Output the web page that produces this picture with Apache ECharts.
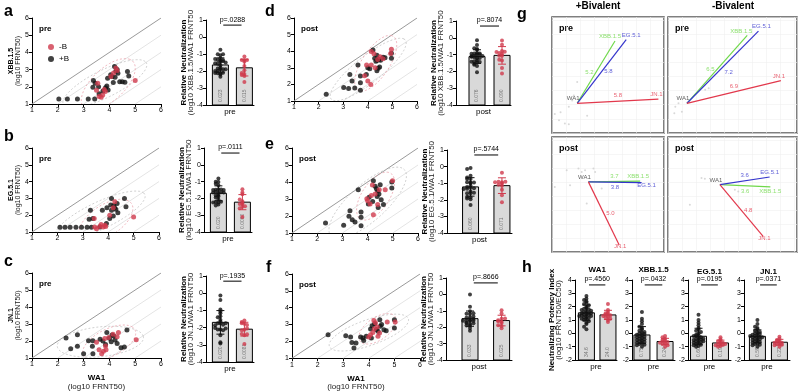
<!DOCTYPE html>
<html>
<head>
<meta charset="utf-8">
<script src="https://cdn.jsdelivr.net/npm/echarts@6/dist/echarts.min.js"></script>
<style>
  html, body { margin: 0; padding: 0; background: #fff; }
  #chart { width: 800px; height: 392px; }
</style>
</head>
<body>
<div id="chart"></div>
<script>
// ---------------- data ----------------
// scatter panels a-f: [log10 WA1 FRNT50, log10 variant FRNT50]
// "+B" = boosted with bivalent (black), "-B" = not boosted (red)
const aPlusB = [[2.04,1.29],[2.37,1.29],[2.76,1.29],[3.18,1.29],[3.43,1.29],[3.38,2.36],[3.36,1.97],[3.58,2.01],[3.93,2.5],[3.95,1.82],[4.22,2.56],[4.2,3.18],[4.33,2.79],[4.4,2.3],[4.5,2.3],[4.6,2.26],[4.7,2.89],[4.75,2.63],[4.05,2.7],[3.6,1.6],[3.85,1.95],[4.1,2.6],[4.25,2.9],[3.75,1.75],[4.15,2.25],[3.9,2.05],[4.3,3.0],[3.45,2.2]];
const aMinusB = [[3.55,2.2],[3.5,1.8],[3.6,1.43],[3.68,1.39],[3.74,1.52],[3.84,1.72],[4.06,2.6],[4.16,2.8],[4.3,2.95],[5.0,2.36],[4.25,3.1],[3.8,1.85]];

const bPlusB = [[2.1,1.28],[2.3,1.28],[2.5,1.28],[2.73,1.28],[2.95,1.28],[3.17,1.28],[3.34,1.28],[3.3,2.29],[3.25,1.76],[3.4,1.8],[3.67,1.3],[3.77,2.3],[3.93,1.5],[4.06,1.81],[4.13,3.0],[4.22,2.58],[4.25,2.45],[4.35,2.7],[4.38,2.15],[4.64,2.99],[4.7,2.5],[4.13,2.3],[4.2,1.95],[3.95,2.45],[4.1,2.6],[4.3,2.35]];
const bMinusB = [[3.45,1.8],[3.47,1.3],[3.54,1.2],[3.67,1.33],[3.72,1.45],[3.8,1.3],[3.9,1.32],[4.06,2.0],[4.2,2.45],[4.26,2.8],[5.0,1.9],[3.87,1.4]];

const cPlusB = [[2.32,2.18],[2.76,2.37],[2.5,1.55],[2.76,1.69],[3.0,1.25],[3.19,2.02],[3.36,2.02],[3.34,1.69],[3.36,1.25],[3.64,2.1],[3.75,2.0],[3.9,2.5],[4.0,2.16],[4.07,1.96],[4.22,2.06],[4.3,1.85],[4.45,1.6],[4.58,1.65],[4.68,2.65],[4.17,2.3],[3.85,1.8],[4.1,2.35]];
const cMinusB = [[3.5,1.92],[3.6,1.48],[3.7,1.25],[3.77,1.4],[3.85,1.7],[3.97,2.2],[4.14,2.4],[4.3,2.25],[4.35,2.5],[5.04,2.08],[3.82,2.15],[3.87,1.48]];

const dPlusB = [[2.31,1.4],[3.02,1.81],[3.22,1.75],[3.27,2.6],[3.36,2.2],[3.47,1.79],[3.6,3.17],[3.7,2.5],[3.7,2.1],[3.7,1.65],[3.94,2.6],[4.0,3.0],[4.08,2.95],[4.21,4.07],[4.28,3.57],[4.33,3.4],[4.37,3.75],[4.39,3.46],[4.45,3.5],[4.52,3.45],[4.37,2.82],[4.42,2.98],[4.48,3.05],[4.62,3.63],[4.7,3.6],[4.96,3.57],[4.96,3.88]];
const dMinusB = [[3.87,2.52],[4.0,2.2],[4.12,1.99],[4.14,3.17],[4.14,3.98],[4.25,3.84],[4.3,3.0],[4.4,3.5],[4.5,3.67],[4.62,3.55],[4.96,4.12],[4.93,3.86],[3.95,3.17]];

const ePlusB = [[2.33,1.59],[3.05,1.45],[3.3,2.31],[3.26,1.98],[3.39,1.78],[3.5,1.65],[3.74,2.24],[3.74,1.92],[3.74,1.43],[3.63,3.55],[4.03,2.7],[4.06,3.1],[4.23,4.08],[4.3,3.75],[4.4,3.45],[4.45,3.3],[4.5,3.84],[4.38,3.15],[4.54,2.96],[4.63,2.67],[4.96,3.65],[4.96,4.0],[4.42,2.5],[4.2,2.85],[4.35,3.6]];
const eMinusB = [[3.97,3.02],[4.1,2.7],[4.19,3.82],[4.23,2.08],[4.3,3.3],[4.4,2.67],[4.46,3.55],[4.7,3.55],[4.99,4.08],[4.0,2.9],[4.15,3.2]];

const fPlusB = [[2.41,2.4],[3.1,2.34],[3.29,2.26],[3.34,1.94],[3.42,1.61],[3.5,1.9],[3.68,2.26],[3.77,2.2],[3.8,2.05],[4.07,2.73],[4.1,2.2],[4.13,2.93],[4.23,3.05],[4.36,2.6],[4.43,3.28],[4.45,2.9],[4.5,3.0],[4.59,2.69],[4.68,2.63],[5.0,3.28],[5.0,2.79],[4.3,2.7],[3.9,2.3]];
const fMinusB = [[4.0,2.26],[4.07,2.4],[4.16,2.53],[4.2,3.24],[4.26,3.1],[4.33,2.85],[4.36,2.3],[4.42,2.5],[4.72,3.15],[5.03,3.15],[4.22,2.75]];

const variants = ['XBB.1.5', 'EG.5.1', 'JN.1'];
const stagesAF = ['pre', 'pre', 'pre', 'post', 'post', 'post'];
const pValuesAF = ['.0288', '.0111', '.1935', '.8074', '.5744', '.8666'];

// antigenic maps (g), antigenic units relative to WA1 at [0, 0]; order XBB.1.5, EG.5.1, JN.1
const mapPlusPre = [[2.7, 4.4], [3.5, 4.5], [5.8, 0.3]];
const mapPlusPreDist = ['5.2', '5.8', '5.8'];
const mapPlusPreSera = [[-1.6,-0.76],[-1.19,-0.64],[-0.6,-0.24],[-0.36,0.19],[-0.24,0.55],[0,1.5],[-0.6,-1.48],[0.71,-0.88],[-0.88,-1.43],[-1.3,-1.2]];
const mapMinusPre = [[4.3, 4.8], [5.1, 5.1], [6.7, 1.6]];
const mapMinusPreDist = ['6.5', '7.2', '6.9'];
const mapMinusPreSera = [[-0.83,-0.24],[-0.36,-0.6],[-0.6,0],[1.3,0.95],[1.55,1.07],[-0.9,-0.7]];
const mapPlusPost = [[3.7, 0.05], [3.8, -0.05], [2.2, -4.5]];
const mapPlusPostDist = ['3.7', '3.8', '5.0'];
const mapPlusPostSera = [[-1.55,0.83],[-2.4,-0.36],[-0.71,0.95],[-0.48,0.71],[-0.24,0.83],[0.36,0.95],[0.48,0.71],[-1.31,-0.24],[-0.12,-1.55],[0.95,-0.48]];
const mapMinusPost = [[3.6, -0.15], [3.55, 0.55], [3.1, -3.7]];
const mapMinusPostDist = ['3.6', '3.6', '4.8'];
const mapMinusPostSera = [[-1.31,0.48],[-1.07,0.43],[-2.14,-1.43],[1.07,-0.36],[1.31,-0.48]];

// neutralizing potency index (h), log10 FRNT50/EC50
const hAntigens = ['WA1', 'XBB.1.5', 'EG.5.1', 'JN.1'];
const hPValues = ['.4560', '.0432', '.0195', '.0371'];
const hWA1PlusB = [2.8,2.6,2.5,2.4,2.3,2.2,2.1,2.0,1.9,1.85,1.8,1.75,1.7,1.65,1.6,1.55,1.5,1.5,1.45,1.4,1.4,1.35,1.3,1.3,1.25,1.2,1.15,1.1,1.05,1.0,0.9,0.8,0.7,0.5,0.3];
const hWA1MinusB = [2.2,1.75,1.6,1.5,1.45,1.4,1.35,1.3,1.25,1.2,1.1,1.0,0.85];
const hXBBPlusB = [1.6,1.1,0.9,0.7,0.5,0.4,0.3,0.2,0.1,0.05,0,-0.05,-0.1,-0.15,-0.2,-0.25,-0.3,-0.35,-0.4,-0.45,-0.5,-0.55,-0.6,-0.65,-0.7,-0.75,-0.8,-0.85,-0.9,-1.0];
const hXBBMinusB = [-0.2,-0.3,-0.4,-0.5,-0.55,-0.6,-0.65,-0.7,-0.75,-0.8,-0.9,-1.0];
const hEGPlusB = [1.4,1.0,0.8,0.6,0.4,0.3,0.2,0.1,0,-0.1,-0.15,-0.2,-0.3,-0.35,-0.4,-0.45,-0.5,-0.55,-0.6,-0.65,-0.7,-0.75,-0.8,-0.85,-0.9,-0.95,-1.0,-0.6,-0.4,-0.2];
const hEGMinusB = [-0.3,-0.45,-0.55,-0.6,-0.7,-0.75,-0.8,-0.85,-0.9,-0.95,-1.0,-0.8];
const hJNPlusB = [1.0,0.7,0.5,0.4,0.3,0.2,0.1,0.05,0,-0.05,-0.1,-0.15,-0.2,-0.25,-0.3,-0.35,-0.4,-0.45,-0.5,-0.55,-0.6,-0.65,-0.7,-0.75,-0.8,-0.85,-0.9,-1.0,-0.3,-0.2];
const hJNMinusB = [-0.25,-0.4,-0.5,-0.55,-0.6,-0.7,-0.75,-0.8,-0.85,-0.9,-1.0,-0.7];

// ---------------- styling / helpers ----------------
const FONT = 'Liberation Sans, Arial, sans-serif';
const BLACK = '#111111';
const RED = '#cf3a4c';
const MAP_COLORS = ['#6fd84a', '#3535cc', '#e2384c'];

const grids = [], xAxes = [], yAxes = [], series = [], texts = [];

function richTitle(size, lh) {
  return {
    b: { fontWeight: 'bold', fontSize: size, fontFamily: FONT, color: '#000', lineHeight: lh },
    n: { fontSize: size, fontFamily: FONT, color: '#222', lineHeight: lh }
  };
}

function axisBase(extra) {
  return Object.assign({
    type: 'value',
    nameMoveOverlap: false,
    axisLine: { show: true, onZero: false, lineStyle: { color: '#000', width: 1 } },
    axisTick: { show: true, length: 3, lineStyle: { color: '#000' } },
    axisLabel: { fontSize: 7, color: '#000', margin: 3, fontFamily: FONT },
    splitLine: { show: false }
  }, extra);
}

function addGrid(box, xa, ya, extra) {
  grids.push(Object.assign({ left: box[0], top: box[1], width: box[2], height: box[3] }, extra || {}));
  const i = grids.length - 1;
  xAxes.push(Object.assign({ gridIndex: i }, xa));
  yAxes.push(Object.assign({ gridIndex: i }, ya));
  return i;
}

function addText(x, y, text, style) {
  texts.push({ type: 'text', x: x, y: y, silent: true,
    style: Object.assign({ text: text, fontFamily: FONT, fill: '#000', fontSize: 8 }, style) });
}

function meanSd(v) {
  const m = v.reduce((a, b) => a + b, 0) / v.length;
  const sd = Math.sqrt(v.reduce((a, b) => a + (b - m) * (b - m), 0) / (v.length - 1));
  return [m, sd];
}

// simple dot-plot spread: points with similar values are pushed sideways
function swarm(vals, center, binSize, step) {
  const bins = {};
  return vals.map(v => {
    const b = Math.round(v / binSize);
    const n = bins[b] = (bins[b] || 0) + 1;
    const k = n - 1;
    const off = k === 0 ? 0 : (k % 2 ? -1 : 1) * Math.ceil(k / 2) * step;
    return [center + off, v];
  });
}

function ellipseSeries(i, pts, color) {
  const n = pts.length;
  const mx = pts.reduce((s, p) => s + p[0], 0) / n;
  const my = pts.reduce((s, p) => s + p[1], 0) / n;
  let sxx = 0, syy = 0, sxy = 0;
  pts.forEach(p => { sxx += (p[0] - mx) ** 2; syy += (p[1] - my) ** 2; sxy += (p[0] - mx) * (p[1] - my); });
  sxx /= n - 1; syy /= n - 1; sxy /= n - 1;
  const tr = sxx + syy, det = sxx * syy - sxy * sxy;
  const disc = Math.sqrt(Math.max(tr * tr / 4 - det, 0));
  const l1 = tr / 2 + disc, l2 = Math.max(tr / 2 - disc, 0);
  const th = 0.5 * Math.atan2(2 * sxy, sxx - syy);
  const k = 2.45; // ~95%
  return {
    type: 'custom', xAxisIndex: i, yAxisIndex: i, silent: true, z: 2, clip: true,
    data: [[mx, my]],
    renderItem: (params, api) => {
      const ring = [];
      for (let t = 0; t <= 72; t++) {
        const a = t / 72 * 2 * Math.PI;
        const ex = k * Math.sqrt(l1) * Math.cos(a), ey = k * Math.sqrt(l2) * Math.sin(a);
        ring.push(api.coord([mx + ex * Math.cos(th) - ey * Math.sin(th), my + ex * Math.sin(th) + ey * Math.cos(th)]));
      }
      return { type: 'polyline', shape: { points: ring }, style: { stroke: color, fill: 'none', lineWidth: 0.8, lineDash: [2, 2] } };
    }
  };
}

// ---------------- scatter panels (a-f) ----------------
function scatterPanel(box, plus, minus, stage, yName, xName) {
  const i = addGrid(box,
    axisBase({ min: 1, max: 6, interval: 1,
      name: xName ? '{b|' + xName + '}\n{n|(log10 FRNT50)}' : '',
      nameLocation: 'middle', nameGap: 16, nameTextStyle: { rich: richTitle(8, 8.5) } }),
    axisBase({ min: 1, max: 6, interval: 1,
      name: yName ? '{b|' + yName + '}\n{n|(log10 FRNT50)}' : '',
      nameLocation: 'middle', nameRotate: 90, nameGap: 10, nameTextStyle: { rich: richTitle(7, 7) } }));
  // identity line and 10-fold steps below it
  [0, 1, 2, 3, 4].forEach(o => series.push({
    type: 'line', xAxisIndex: i, yAxisIndex: i, silent: true, z: 1,
    data: [[1 + o, 1], [6, 6 - o]], symbol: 'none',
    lineStyle: { color: o === 0 ? '#9a9a9a' : '#e4e4e4', width: 1 }
  }));
  series.push(ellipseSeries(i, plus, '#c4c4c4'));
  series.push(ellipseSeries(i, minus, '#eba4ae'));
  series.push({ type: 'scatter', name: '+B', xAxisIndex: i, yAxisIndex: i, data: plus,
    symbolSize: 5, itemStyle: { color: BLACK }, z: 3 });
  series.push({ type: 'scatter', name: '-B', xAxisIndex: i, yAxisIndex: i, data: minus,
    symbolSize: 5, itemStyle: { color: RED }, z: 3 });
  addText(box[0] + 7, box[1] + 7, stage, { fontWeight: 'bold', fontSize: 8 });
}

// ---------------- bar / dot panels ----------------
function barPanel(box, xr, yr, groups, pText, yName, xName, bracketY, binSize, nameGap) {
  const i = addGrid(box,
    axisBase({ min: xr[0], max: xr[1], axisTick: { show: false }, axisLabel: { show: false },
      name: xName, nameLocation: 'middle', nameGap: 3,
      nameTextStyle: { fontSize: 8, fontFamily: FONT, color: '#000', verticalAlign: 'top' } }),
    axisBase({ min: yr[0], max: yr[1], interval: 1,
      name: yName || '', nameLocation: 'middle', nameRotate: 90, nameGap: nameGap,
      nameTextStyle: { rich: richTitle(8, 7.5) } }));
  const stats = groups.map(g => meanSd(g.vals));
  // bars drawn from the axis floor up to the mean
  series.push({
    type: 'custom', xAxisIndex: i, yAxisIndex: i, silent: true, z: 2,
    data: stats.map((s, k) => [k + 1, s[0]]),
    renderItem: (params, api) => {
      const x = api.value(0), m = api.value(1);
      const top = api.coord([x, m]), base = api.coord([x, yr[0]]);
      const w = 16;
      const gm = Math.pow(10, m);
      return { type: 'group', children: [
        { type: 'rect', shape: { x: top[0] - w / 2, y: top[1], width: w, height: base[1] - top[1] },
          style: { fill: '#d9d9d9', stroke: '#000', lineWidth: 1 } },
        { type: 'text', x: top[0], y: base[1] - 3, rotation: Math.PI / 2,
          style: { text: gm >= 1 ? gm.toFixed(1) : gm.toPrecision(2), fontSize: 5, fontFamily: FONT,
            fill: '#777', align: 'left', verticalAlign: 'middle' } }
      ] };
    }
  });
  groups.forEach((g, k) => series.push({
    type: 'scatter', xAxisIndex: i, yAxisIndex: i, z: 3,
    data: swarm(g.vals, k + 1, binSize, 0.11), symbolSize: 4, itemStyle: { color: g.color }
  }));
  // mean +/- SD
  series.push({
    type: 'custom', xAxisIndex: i, yAxisIndex: i, silent: true, z: 4,
    data: stats.map((s, k) => [k + 1, s[0], s[1]]),
    renderItem: (params, api) => {
      const x = api.value(0), m = api.value(1), s = api.value(2);
      const hi = api.coord([x, m + s]), lo = api.coord([x, m - s]);
      const c = groups[params.dataIndex].color;
      const st = { stroke: c, lineWidth: 1 };
      return { type: 'group', children: [
        { type: 'line', shape: { x1: hi[0], y1: hi[1], x2: lo[0], y2: lo[1] }, style: st },
        { type: 'line', shape: { x1: hi[0] - 4, y1: hi[1], x2: hi[0] + 4, y2: hi[1] }, style: st },
        { type: 'line', shape: { x1: lo[0] - 4, y1: lo[1], x2: lo[0] + 4, y2: lo[1] }, style: st }
      ] };
    }
  });
  // p-value bracket
  series.push({
    type: 'custom', xAxisIndex: i, yAxisIndex: i, silent: true, z: 4,
    data: [[1.5, bracketY]],
    renderItem: (params, api) => {
      const l = api.coord([1.12, bracketY]), r = api.coord([1.88, bracketY]);
      return { type: 'group', children: [
        { type: 'line', shape: { x1: l[0], y1: l[1], x2: r[0], y2: r[1] }, style: { stroke: '#000', lineWidth: 1 } },
        { type: 'text', x: (l[0] + r[0]) / 2, y: l[1] - 2,
          style: { text: 'p=' + pText, fontSize: 7, fontFamily: FONT, fill: '#000', align: 'center', verticalAlign: 'bottom' } }
      ] };
    }
  });
}

// ---------------- antigenic maps (g) ----------------
function mapPanel(box, xr, yr, coords, dists, stage, sera, namePos, distPos) {
  const hidden = r => ({ type: 'value', min: r[0], max: r[1], interval: 1,
    axisLine: { show: false }, axisTick: { show: false }, axisLabel: { show: false },
    splitLine: { show: true, lineStyle: { color: '#f0f0f0', width: 0.6 } } });
  const i = addGrid(box, hidden(xr), hidden(yr), { show: true, borderColor: '#555', borderWidth: 1.5 });
  series.push({ type: 'scatter', xAxisIndex: i, yAxisIndex: i, silent: true, z: 2,
    data: sera, symbolSize: 2, itemStyle: { color: '#cfcfcf' } });
  const labels = [];
  coords.forEach((c, k) => {
    series.push({ type: 'line', xAxisIndex: i, yAxisIndex: i, silent: true, z: 3,
      data: [[0, 0], c], symbol: 'none', lineStyle: { color: MAP_COLORS[k], width: 1.2 } });
    labels.push({ value: c, label: { show: true, formatter: variants[k], color: MAP_COLORS[k],
      position: namePos[k][0], offset: namePos[k][1], distance: 1 } });
    labels.push({ value: [c[0] / 2, c[1] / 2], label: { show: true, formatter: dists[k], color: MAP_COLORS[k],
      position: distPos[k][0], offset: distPos[k][1], distance: 2 } });
  });
  labels.push({ value: [0, 0], label: { show: true, formatter: 'WA1', color: '#333',
    position: 'top', offset: [-4, 0], distance: 1 } });
  series.push({ type: 'scatter', xAxisIndex: i, yAxisIndex: i, silent: true, z: 4,
    data: labels, symbolSize: 1, itemStyle: { color: 'rgba(0,0,0,0)' },
    label: { show: true, fontSize: 6, fontFamily: FONT } });
  addText(box[0] + 7, box[1] + 7, stage, { fontWeight: 'bold', fontSize: 9 });
}

// ---------------- build ----------------
const scatterBoxes = [[32, 18, 129, 86], [32, 148, 127, 84], [32, 273, 129, 85],
                      [294, 18, 123, 83], [292, 148, 126, 85], [292, 274, 128, 85]];
const barBoxes = [[206, 20, 48, 85], [204, 148, 48, 84], [206, 276, 48, 86],
                  [456, 21, 55, 84], [447, 150, 65, 83], [446, 278, 66, 82]];
const barXr = [[0.4, 2.4], [0.4, 2.4], [0.4, 2.4], [0.16, 2.36], [0.25, 2.32], [0.24, 2.33]];
const scatterSets = [[aPlusB, aMinusB], [bPlusB, bMinusB], [cPlusB, cMinusB],
                     [dPlusB, dMinusB], [ePlusB, eMinusB], [fPlusB, fMinusB]];

scatterSets.forEach((set, p) => {
  const v = variants[p % 3];
  scatterPanel(scatterBoxes[p], set[0], set[1], stagesAF[p], p < 3 ? v : '', p === 2 || p === 5 ? 'WA1' : '');
  // relative neutralization = log10(variant) - log10(WA1)
  const rel = pts => pts.map(q => +(q[1] - q[0]).toFixed(2));
  barPanel(barBoxes[p], barXr[p], [-4, 1],
    [{ vals: rel(set[0]), color: BLACK }, { vals: rel(set[1]), color: RED }],
    pValuesAF[p], '{b|Relative Neutralization}\n{n|(log10 ' + v + '/WA1 FRNT50}', stagesAF[p], 0.7, 0.15, 11);
});

mapPanel([552, 17, 112, 116], [-1.8, 6.2], [-2.1, 6.1], mapPlusPre, mapPlusPreDist, 'pre', mapPlusPreSera,
  [['top', [-5, 0]], ['top', [5, 0]], ['top', [-2, 0]]],
  [['left', [0, 0]], ['right', [0, 0]], ['top', [0, 0]]]);
mapPanel([668, 17, 129, 116], [-1.35, 7.85], [-2.1, 6.1], mapMinusPre, mapMinusPreDist, 'pre', mapMinusPreSera,
  [['top', [-6, 0]], ['top', [3, 0]], ['top', [-2, 0]]],
  [['left', [0, 0]], ['bottom', [6, 0]], ['top', [0, 0]]]);
mapPanel([552, 137, 112, 115], [-2.6, 5.4], [-5.0, 3.2], mapPlusPost, mapPlusPostDist, 'post', mapPlusPostSera,
  [['top', [-2, 0]], ['bottom', [5, -2]], ['top', [1, 6]]],
  [['top', [0, 0]], ['bottom', [0, 0]], ['right', [0, 0]]]);
mapPanel([668, 137, 129, 115], [-3.7, 5.5], [-4.8, 3.4], mapMinusPost, mapMinusPostDist, 'post', mapMinusPostSera,
  [['bottom', [0, 0]], ['top', [0, 0]], ['top', [1, 6]]],
  [['bottom', [0, 0]], ['top', [0, 0]], ['right', [0, 0]]]);

const hBoxes = [[575, 280, 42, 80], [632, 280, 43, 80], [688, 280, 43, 80], [744, 280, 46, 80]];
const hXr = [[0.47, 2.42], [0.57, 2.43], [0.52, 2.48], [0.39, 2.48]];
const hSets = [[hWA1PlusB, hWA1MinusB], [hXBBPlusB, hXBBMinusB], [hEGPlusB, hEGMinusB], [hJNPlusB, hJNMinusB]];
const hTitleY = [270, 270, 272, 272];
hSets.forEach((set, k) => {
  barPanel(hBoxes[k], hXr[k], [-2, 4],
    [{ vals: set[0], color: BLACK }, { vals: set[1], color: RED }],
    hPValues[k], k === 0 ? '{b|Neutralizing Potency Index}\n{n|(log10 FRNT50/EC50)}' : '', 'pre', 3.63, 0.2, 12);
  const b = hBoxes[k], xr = hXr[k];
  const mid = b[0] + (1.5 - xr[0]) / (xr[1] - xr[0]) * b[2];
  addText(mid, hTitleY[k], hAntigens[k], { fontWeight: 'bold', fontSize: 8, align: 'center', verticalAlign: 'middle' });
});

// headings and panel letters
addText(598, 6, '+Bivalent', { fontWeight: 'bold', fontSize: 10, align: 'center', verticalAlign: 'middle' });
addText(733, 6, '-Bivalent', { fontWeight: 'bold', fontSize: 10, align: 'center', verticalAlign: 'middle' });
[['a', 4, 12], ['b', 4, 137], ['c', 4, 262], ['d', 265, 12], ['e', 265, 145], ['f', 266, 268], ['g', 517, 15], ['h', 522, 268]]
  .forEach(l => addText(l[1], l[2], l[0], { fontWeight: 'bold', fontSize: 16, verticalAlign: 'middle' }));

const chart = echarts.init(document.getElementById('chart'), null, { renderer: 'canvas' });
chart.setOption({
  animation: false,
  backgroundColor: '#fff',
  textStyle: { fontFamily: FONT },
  legend: {
    data: ['-B', '+B'], left: 43, top: 38, orient: 'vertical', itemWidth: 6, itemHeight: 6, itemGap: 4,
    icon: 'circle', selectedMode: false, textStyle: { fontSize: 8, fontFamily: FONT, color: '#000' }
  },
  grid: grids,
  xAxis: xAxes,
  yAxis: yAxes,
  series: series,
  graphic: texts
});
</script>
</body>
</html>
